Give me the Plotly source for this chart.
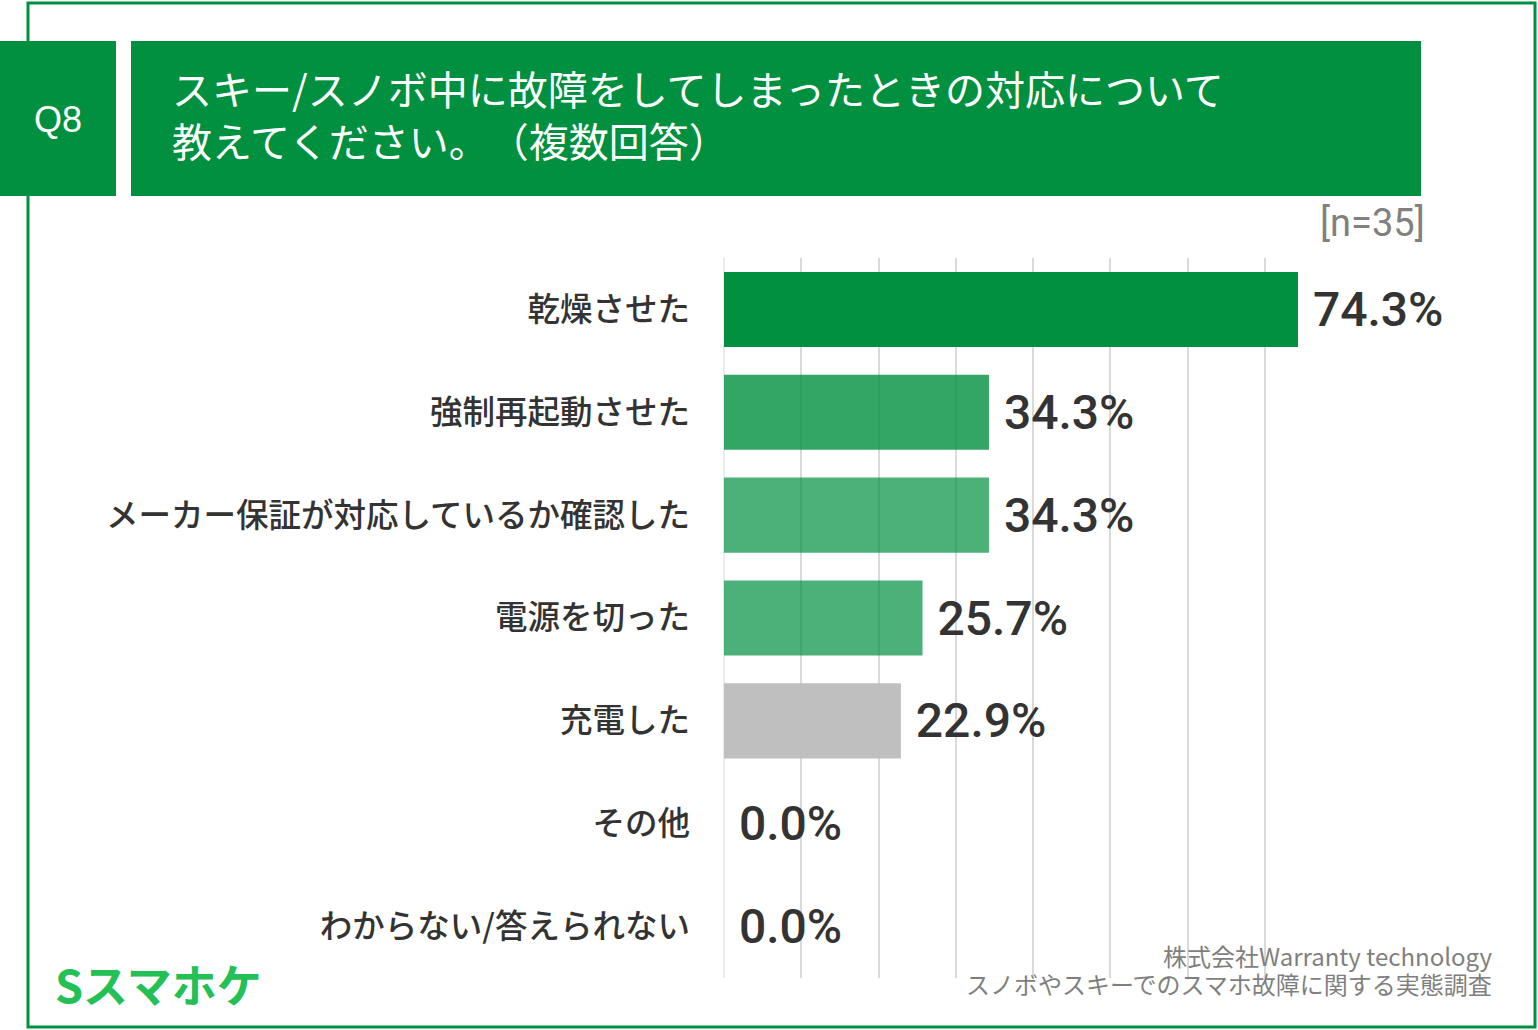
import plotly.graph_objects as go

categories = ["乾燥させた", "強制再起動させた", "メーカー保証が対応しているか確認した",
              "電源を切った", "充電した", "その他", "わからない/答えられない"]
values = [74.3, 34.3, 34.3, 25.7, 22.9, 0.0, 0.0]
bar_colors = ["#00903F", "rgba(0,144,63,0.8)", "rgba(0,144,63,0.7)",
              "rgba(0,144,63,0.7)", "#BFBFBF", "#BFBFBF", "#BFBFBF"]
x_ticks = [0, 10, 20, 30, 40, 50, 60, 70, 80]

title_text = "スキー/スノボ中に故障をしてしまったときの対応について<br>教えてください。\u200b（複数回答）"
q_label = "Q8"
n_label = "[n=35]"
source_lines = ["株式会社Warranty technology", "スノボやスキーでのスマホ故障に関する実態調査"]
logo_text = "Sスマホケ"

W, H = 1538, 1030
L, R, T, B = 724, 1342, 258, 978
GREEN = "#00903F"


def px(x):
    return (x - L) / (R - L)


def py(y):
    return (B - y) / (B - T)


fig = go.Figure()
fig.add_trace(go.Bar(
    y=categories, x=values, orientation="h",
    marker=dict(color=bar_colors, line=dict(width=0)),
    width=0.73,
    texttemplate=" %{x:.1f}%", textposition="outside",
    textfont=dict(family="Roboto", size=48, color="#333333", weight=500),
    constraintext="none", cliponaxis=False, hoverinfo="skip",
))

shapes = [
    dict(type="rect", xref="paper", yref="paper", x0=px(28), x1=px(1535), y0=py(1027), y1=py(3),
         line=dict(color=GREEN, width=3), fillcolor="rgba(0,0,0,0)", layer="below"),
    dict(type="rect", xref="paper", yref="paper", x0=px(0), x1=px(116), y0=py(196), y1=py(41),
         line=dict(width=0), fillcolor=GREEN, layer="above"),
    dict(type="rect", xref="paper", yref="paper", x0=px(131), x1=px(1421), y0=py(196), y1=py(41),
         line=dict(width=0), fillcolor=GREEN, layer="above"),
]

annotations = [
    dict(text=q_label, xref="paper", yref="paper", x=px(58), y=py(119), showarrow=False,
         xanchor="center", yanchor="middle",
         font=dict(family="Liberation Sans", size=36, color="white")),
    dict(text=title_text, xref="paper", yref="paper", x=px(170), y=py(114), showarrow=False,
         xanchor="left", yanchor="middle", align="left",
         font=dict(family="Noto Sans CJK JP", size=40, color="white")),
    dict(text=n_label, xref="paper", yref="paper", x=px(1427), y=py(223), showarrow=False,
         xanchor="right", yanchor="middle",
         font=dict(family="Roboto", size=38, color="#808080")),
    dict(text=source_lines[0], xref="paper", yref="paper", x=px(1494), y=py(955), showarrow=False,
         xanchor="right", yanchor="middle",
         font=dict(family="Noto Sans CJK JP", size=24, color="#7F7F7F")),
    dict(text=source_lines[1], xref="paper", yref="paper", x=px(1494), y=py(983), showarrow=False,
         xanchor="right", yanchor="middle",
         font=dict(family="Noto Sans CJK JP", size=24, color="#7F7F7F")),
    dict(text="<b>" + logo_text + "</b>", xref="paper", yref="paper", x=px(53), y=py(983), showarrow=False,
         xanchor="left", yanchor="middle",
         font=dict(family="Noto Sans CJK JP", size=45, color="#22C055")),
]

fig.update_layout(
    width=W, height=H,
    margin=dict(l=L, r=W - R, t=T, b=H - B, pad=0),
    paper_bgcolor="white", plot_bgcolor="white",
    showlegend=False, bargap=0.27,
    shapes=shapes, annotations=annotations,
    xaxis=dict(range=[0, 80], tickvals=x_ticks, showticklabels=False,
               showgrid=True, gridcolor="#D9D9D9", gridwidth=1.5,
               zeroline=True, zerolinecolor="#EBEBEB", zerolinewidth=2,
               showline=False, fixedrange=True),
    yaxis=dict(autorange="reversed", showgrid=False, zeroline=False, showline=False,
               ticks="", ticklabelstandoff=33,
               tickfont=dict(family="Noto Sans CJK JP", size=32.5, color="#333333", weight=500),
               fixedrange=True),
)

fig.write_html("out.html", config={"displayModeBar": False},
               post_script="document.body.style.margin='0';document.body.style.padding='0';")
